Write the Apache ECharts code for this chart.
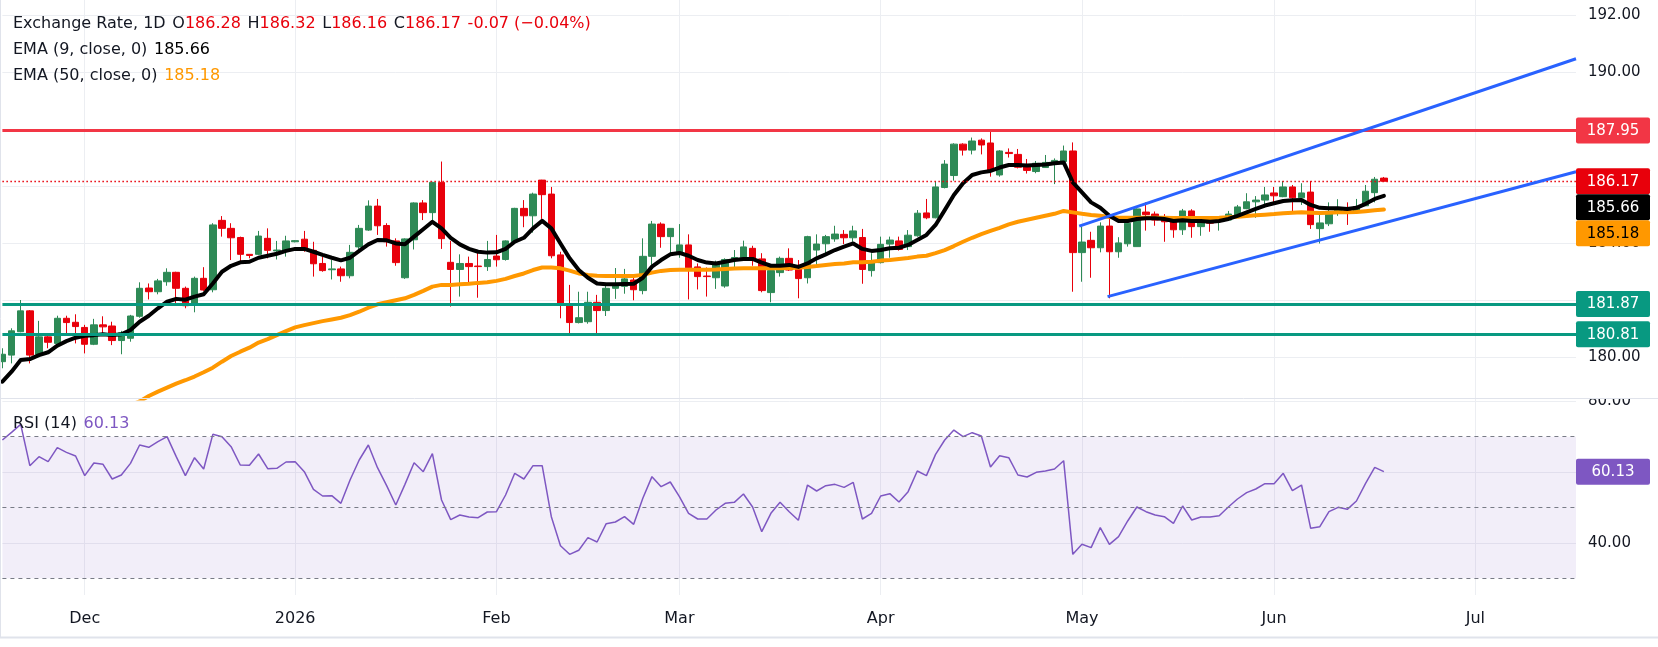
<!DOCTYPE html>
<html>
<head>
<meta charset="utf-8">
<script src="https://cdn.jsdelivr.net/npm/echarts@6/dist/echarts.min.js"></script>
<style>
  html, body { margin: 0; padding: 0; background: #fff; }
  #chart { width: 1658px; height: 647px; }
</style>
</head>
<body>
<div id="chart"></div>
<script>
// daily bars, weekdays only, first (partly hidden) bar is 18 Nov 2025
const firstDay = '2025-11-18';
const barCount = 173; // incl. empty future bars up to the right edge
const dates = [];
(function () {
  const d = new Date(firstDay + 'T00:00:00Z');
  while (dates.length < barCount) {
    const wd = d.getUTCDay();
    if (wd !== 0 && wd !== 6) dates.push(d.toISOString().slice(0, 10));
    d.setUTCDate(d.getUTCDate() + 1);
  }
})();
const monthLabels = ['2026', 'Feb', 'Mar', 'Apr', 'May', 'Jun', 'Jul', 'Aug', 'Sep', 'Oct', 'Nov', 'Dec'];

const opens = [
  179.85, 180.08, 180.90, 181.63, 180.11, 180.72, 180.49, 181.37, 181.23, 181.05,
  180.46, 181.14, 181.10, 180.59, 180.67, 181.44, 182.43, 182.30, 182.65, 182.98,
  182.42, 181.83, 182.77, 182.37, 184.80, 184.52, 184.20, 183.61, 183.61, 184.17,
  183.73, 183.73, 184.05, 184.14, 183.75, 183.29, 183.07, 183.10, 182.86, 183.87,
  184.46, 185.30, 184.62, 184.08, 182.79, 184.12, 185.41, 185.07, 186.13, 183.33,
  183.08, 183.29, 183.20, 183.18, 183.55, 183.43, 184.05, 185.22, 184.96, 186.21,
  185.72, 183.59, 181.86, 181.22, 181.25, 181.93, 181.64, 182.42, 182.49, 182.71,
  182.34, 183.54, 184.67, 184.23, 183.63, 183.94, 183.17, 182.85, 182.79, 182.50,
  183.42, 183.49, 183.82, 183.45, 182.27, 182.97, 183.47, 183.20, 182.79, 183.76,
  183.98, 184.15, 184.31, 184.19, 184.20, 183.04, 183.32, 183.97, 184.08, 183.88,
  184.26, 185.06, 184.89, 185.95, 186.37, 187.47, 187.26, 187.61, 187.51, 186.39,
  187.18, 187.11, 186.68, 186.51, 186.65, 186.82, 186.86, 187.23, 183.67, 184.10,
  183.84, 184.60, 183.70, 183.98, 183.88, 185.09, 185.02, 184.85, 184.78, 184.47,
  185.13, 184.58, 184.80, 184.78, 184.81, 184.96, 185.21, 185.45, 185.51, 185.76,
  185.63, 185.97, 185.59, 185.79, 184.51, 184.68, 185.07, 185.20, 185.10, 185.31,
  185.77, 186.28
];
const closes = [
  180.11, 180.93, 181.63, 180.08, 180.72, 180.53, 181.37, 181.22, 181.08, 180.46,
  181.14, 181.07, 180.59, 180.86, 181.45, 182.42, 182.30, 182.68, 182.98, 182.42,
  181.81, 182.77, 182.36, 184.64, 184.52, 184.19, 183.61, 183.57, 184.25, 183.75,
  183.76, 184.08, 184.09, 183.77, 183.28, 183.04, 183.10, 182.86, 183.68, 184.52,
  185.30, 184.61, 184.05, 183.32, 184.15, 185.41, 185.07, 186.13, 184.16, 183.08,
  183.29, 183.18, 183.18, 183.43, 183.42, 184.08, 185.22, 184.96, 185.72, 185.70,
  183.56, 181.86, 181.22, 181.39, 181.93, 181.64, 182.42, 182.51, 182.75, 182.37,
  183.54, 184.67, 184.23, 184.52, 183.94, 183.14, 182.83, 182.83, 183.26, 183.43,
  183.50, 183.87, 183.41, 182.34, 183.04, 183.47, 183.06, 182.76, 184.23, 183.97,
  184.23, 184.32, 184.19, 184.43, 183.08, 183.39, 183.96, 184.11, 183.78, 184.28,
  185.05, 184.89, 185.97, 186.77, 187.47, 187.26, 187.58, 187.44, 186.55, 187.23,
  187.14, 186.66, 186.55, 186.80, 186.83, 186.90, 187.23, 183.67, 184.04, 183.84,
  184.60, 183.70, 184.01, 184.70, 185.20, 185.00, 184.81, 184.75, 184.47, 185.13,
  184.58, 184.72, 184.70, 184.81, 185.02, 185.27, 185.45, 185.51, 185.69, 185.66,
  185.97, 185.59, 185.76, 184.65, 184.71, 185.10, 185.20, 185.10, 185.28, 185.82,
  186.24, 186.17
];
const lows = [
  179.62, 179.79, 180.88, 179.79, 180.08, 180.32, 180.43, 180.76, 180.49, 180.14,
  180.43, 180.79, 180.43, 180.11, 180.55, 181.39, 182.03, 182.21, 182.51, 181.86,
  181.72, 181.58, 182.33, 182.28, 184.23, 183.41, 183.32, 183.47, 183.59, 183.47,
  183.43, 183.53, 184.03, 183.70, 182.83, 183.00, 182.73, 182.65, 182.77, 183.80,
  184.43, 184.29, 183.88, 183.21, 182.75, 183.78, 184.81, 184.81, 183.80, 181.78,
  182.13, 182.57, 182.09, 183.03, 183.18, 183.39, 183.99, 184.56, 184.37, 184.85,
  183.47, 181.37, 180.81, 181.19, 181.18, 180.84, 181.45, 182.05, 182.23, 182.00,
  182.21, 183.24, 183.84, 183.65, 183.49, 182.03, 182.38, 182.13, 182.40, 182.44,
  183.08, 183.41, 183.21, 182.28, 181.93, 182.83, 183.03, 182.07, 182.59, 183.24,
  183.63, 184.05, 183.97, 184.05, 182.58, 182.83, 183.29, 183.49, 183.74, 183.76,
  184.23, 184.84, 184.87, 185.92, 186.19, 187.07, 187.11, 187.11, 186.33, 186.33,
  187.00, 186.62, 186.44, 186.45, 186.64, 186.07, 186.82, 182.30, 182.65, 182.79,
  183.68, 182.07, 183.49, 183.88, 183.88, 184.44, 184.61, 184.05, 184.19, 184.29,
  184.19, 184.26, 184.40, 184.44, 184.78, 184.92, 185.19, 184.89, 185.25, 185.39,
  185.61, 185.08, 185.34, 184.50, 183.99, 184.60, 184.96, 184.64, 185.10, 185.31,
  185.43, 186.16
];
const highs = [
  180.32, 181.02, 182.01, 181.66, 181.28, 180.84, 181.46, 181.46, 181.51, 181.14,
  181.35, 181.44, 181.25, 180.93, 181.49, 182.63, 182.59, 182.75, 183.12, 183.00,
  182.48, 182.83, 183.16, 184.70, 184.95, 184.70, 184.23, 183.62, 184.43, 184.52,
  184.08, 184.26, 184.11, 184.43, 184.05, 183.53, 183.41, 183.18, 183.94, 184.64,
  185.50, 185.55, 184.70, 184.17, 184.17, 185.43, 185.51, 186.15, 186.86, 184.08,
  183.61, 183.53, 183.73, 184.08, 184.29, 184.10, 185.24, 185.51, 185.77, 186.22,
  185.97, 183.70, 182.54, 182.30, 182.30, 182.19, 182.54, 183.13, 183.10, 182.83,
  184.17, 184.78, 184.73, 184.53, 184.67, 184.31, 183.29, 183.15, 183.39, 183.47,
  183.76, 184.09, 183.91, 183.65, 183.18, 183.53, 183.82, 183.41, 184.26, 184.31,
  184.29, 184.61, 184.46, 184.61, 184.50, 183.65, 184.23, 184.23, 184.23, 184.46,
  185.16, 185.55, 186.18, 186.91, 187.50, 187.50, 187.70, 187.67, 187.94, 187.26,
  187.32, 187.30, 186.95, 186.88, 187.09, 186.97, 187.42, 187.53, 184.58, 184.40,
  184.73, 184.87, 184.21, 184.75, 185.22, 185.43, 185.11, 185.02, 184.87, 185.20,
  185.19, 184.80, 184.91, 184.89, 185.13, 185.34, 185.75, 185.65, 185.97, 185.97,
  186.18, 186.04, 186.10, 186.18, 184.99, 185.43, 185.54, 185.43, 185.55, 186.04,
  186.32, 186.32
];

const ema9 = [
  179.15, 179.50, 179.91, 179.94, 180.08, 180.18, 180.41, 180.57, 180.69, 180.76,
  180.78, 180.81, 180.78, 180.81, 180.96, 181.25, 181.46, 181.72, 181.95, 182.05,
  182.02, 182.13, 182.21, 182.59, 183.00, 183.21, 183.33, 183.35, 183.49, 183.56,
  183.63, 183.73, 183.80, 183.80, 183.70, 183.59, 183.49, 183.40, 183.49, 183.73,
  183.96, 184.11, 184.10, 183.99, 183.96, 184.23, 184.49, 184.75, 184.52, 184.19,
  183.96, 183.80, 183.70, 183.67, 183.68, 183.80, 184.05, 184.19, 184.52, 184.78,
  184.52, 183.99, 183.47, 183.06, 182.79, 182.59, 182.56, 182.56, 182.57, 182.58,
  182.79, 183.18, 183.41, 183.61, 183.66, 183.56, 183.41, 183.32, 183.29, 183.35,
  183.41, 183.45, 183.45, 183.32, 183.21, 183.21, 183.24, 183.17, 183.29, 183.47,
  183.61, 183.76, 183.88, 183.99, 183.80, 183.73, 183.76, 183.82, 183.84, 183.94,
  184.11, 184.29, 184.64, 185.16, 185.69, 186.10, 186.39, 186.48, 186.53, 186.65,
  186.74, 186.74, 186.72, 186.74, 186.76, 186.80, 186.83, 186.13, 185.78, 185.43,
  185.24, 184.96, 184.78, 184.78, 184.85, 184.87, 184.87, 184.85, 184.78, 184.80,
  184.78, 184.78, 184.75, 184.78, 184.85, 184.96, 185.08, 185.20, 185.32, 185.40,
  185.48, 185.50, 185.51, 185.34, 185.24, 185.22, 185.22, 185.20, 185.24, 185.38,
  185.55, 185.66
];
const ema50 = [
  null, null, null, null, null, null, null, null, null, null,
  null, null, null, 178.20, 178.33, 178.46, 178.65, 178.80, 178.94, 179.08,
  179.20, 179.33, 179.48, 179.64, 179.85, 180.05, 180.20, 180.34, 180.52, 180.64,
  180.78, 180.92, 181.05, 181.13, 181.20, 181.27, 181.33, 181.39, 181.48, 181.60,
  181.74, 181.86, 181.93, 182.00, 182.07, 182.19, 182.33, 182.48, 182.54, 182.54,
  182.56, 182.58, 182.61, 182.63, 182.68, 182.75, 182.85, 182.94, 183.06, 183.15,
  183.15, 183.12, 183.04, 182.94, 182.89, 182.86, 182.85, 182.85, 182.85, 182.85,
  182.89, 182.97, 183.03, 183.06, 183.07, 183.07, 183.07, 183.07, 183.08, 183.10,
  183.11, 183.12, 183.12, 183.12, 183.12, 183.12, 183.13, 183.14, 183.17, 183.20,
  183.24, 183.27, 183.29, 183.33, 183.33, 183.35, 183.39, 183.41, 183.45, 183.48,
  183.53, 183.56, 183.65, 183.76, 183.90, 184.05, 184.19, 184.32, 184.43, 184.54,
  184.66, 184.75, 184.82, 184.89, 184.96, 185.03, 185.13, 185.08, 185.03, 184.99,
  184.96, 184.92, 184.89, 184.89, 184.89, 184.89, 184.89, 184.89, 184.88, 184.88,
  184.88, 184.88, 184.88, 184.89, 184.91, 184.93, 184.95, 184.98, 185.00, 185.02,
  185.05, 185.07, 185.08, 185.07, 185.06, 185.07, 185.08, 185.08, 185.09, 185.12,
  185.15, 185.18
];
const rsi = [
  69.06, 71.22, 73.48, 61.81, 64.35, 62.94, 66.89, 65.58, 64.54, 58.99,
  62.56, 62.19, 58.05, 59.18, 62.47, 67.65, 66.99, 68.59, 70.00, 64.35,
  58.99, 64.07, 60.87, 70.66, 70.00, 67.18, 62.00, 61.91, 65.11, 60.96,
  61.06, 62.85, 62.94, 60.12, 55.13, 53.25, 53.34, 51.18, 57.76, 63.41,
  67.65, 61.25, 56.16, 50.71, 56.54, 62.66, 60.12, 65.20, 52.12, 46.56,
  47.88, 47.32, 47.13, 48.73, 48.82, 53.53, 59.65, 58.05, 61.81, 61.81,
  47.41, 39.22, 36.78, 37.91, 41.48, 40.26, 45.44, 45.91, 47.41, 45.25,
  52.59, 58.71, 55.88, 57.20, 53.06, 48.35, 46.75, 46.75, 49.29, 51.18,
  51.46, 53.81, 50.14, 43.18, 48.35, 51.46, 48.82, 46.38, 56.35, 54.66,
  56.16, 56.54, 55.69, 57.11, 46.75, 48.35, 53.25, 53.91, 51.55, 54.47,
  60.31, 58.99, 65.01, 69.06, 71.88, 70.00, 71.13, 70.19, 61.44, 64.64,
  64.07, 59.18, 58.61, 59.93, 60.31, 60.87, 63.22, 36.78, 39.60, 38.66,
  44.31, 39.60, 41.76, 46.19, 50.14, 48.82, 47.88, 47.41, 45.53, 50.42,
  46.47, 47.32, 47.32, 47.69, 50.14, 52.40, 54.19, 55.22, 56.73, 56.73,
  59.65, 54.75, 56.35, 44.12, 44.59, 48.82, 50.05, 49.48, 51.84, 56.82,
  61.34, 60.13
];

// channel drawn on the chart: [bar index, price]
const channelUpper = [[117.7, 184.60], [172, 190.46]];
const channelLower = [[120.8, 182.13], [172, 186.50]];

const resistance = 187.95;
const supports = [181.87, 180.81];
const priceTicks = [180, 182, 184, 186, 188, 190, 192];
const rsiTicks = [40, 60, 80];
const rsiLevels = [70, 50, 30];

const UP = '#2e8a56', DOWN = '#e8000b', TEAL = '#089981', GRID = '#eceef2';
const FONT = 'DejaVu Sans', TXT = '#131722';

const last = closes.length - 1;
const candles = opens.map((o, i) => [o, closes[i], lows[i], highs[i]]);
const isMonthStart = (i) => i > 0 && dates[i].slice(5, 7) !== dates[i - 1].slice(5, 7);
const monthLabel = (v) => monthLabels[(+v.slice(5, 7)) - 1];

const chg = closes[last] - closes[last - 1];
const pct = (chg / closes[last - 1] * 100).toFixed(2).replace('-', '\u2212');
const f2 = (v) => v.toFixed(2);

const chart = echarts.init(document.getElementById('chart'), null, { renderer: 'canvas' });

const xCat = (gi, labels) => ({
  type: 'category', gridIndex: gi, data: dates, boundaryGap: false,
  axisLine: { show: false }, axisTick: { show: false },
  axisLabel: labels ? {
    interval: (i) => isMonthStart(i), formatter: (v) => monthLabel(v),
    color: TXT, fontSize: 16, fontFamily: FONT, margin: 16
  } : { show: false },
  splitLine: { show: true, interval: (i) => isMonthStart(i), lineStyle: { color: GRID, width: 1 } }
});

const option = {
  animation: false,
  backgroundColor: '#fff',
  textStyle: { fontFamily: FONT },
  grid: [
    { left: 2.4, right: 82, top: 0, height: 398.6 },
    { left: 2.4, right: 82, top: 399, height: 196 }
  ],
  xAxis: [
    xCat(0, false),
    xCat(1, true),
    { type: 'value', gridIndex: 0, min: 0, max: barCount - 1, show: false }
  ],
  yAxis: [
    {
      type: 'value', gridIndex: 0, position: 'right', min: 178.557, max: 192.518,
      axisLine: { show: false }, axisTick: { show: false, customValues: priceTicks },
      axisLabel: { customValues: priceTicks, formatter: f2, color: TXT, fontSize: 15, fontFamily: FONT, margin: 12 },
      splitLine: { show: true, lineStyle: { color: GRID } }
    },
    {
      type: 'value', gridIndex: 1, position: 'right', min: 25.29, max: 80.64,
      axisLine: { show: false }, axisTick: { show: false, customValues: rsiTicks },
      axisLabel: { customValues: rsiTicks, formatter: f2, color: TXT, fontSize: 15, fontFamily: FONT, margin: 12 },
      splitLine: { show: true, lineStyle: { color: GRID } }
    }
  ],
  series: [
    {
      type: 'candlestick', xAxisIndex: 0, yAxisIndex: 0, data: candles, barWidth: 7,
      itemStyle: { color: UP, color0: DOWN, borderColor: UP, borderColor0: DOWN, borderWidth: 1 },
      markLine: {
        silent: true, symbol: ['none', 'none'], label: { show: false }, animation: false,
        data: [
          { yAxis: resistance, lineStyle: { color: '#f23645', width: 3, type: 'solid' } },
          { yAxis: supports[0], lineStyle: { color: TEAL, width: 3, type: 'solid' } },
          { yAxis: supports[1], lineStyle: { color: TEAL, width: 3, type: 'solid' } },
          { yAxis: closes[last], lineStyle: { color: DOWN, width: 1.3, type: [1.5, 2.5] } }
        ]
      }
    },
    {
      type: 'line', xAxisIndex: 0, yAxisIndex: 0, data: ema50, symbol: 'none',
      lineStyle: { color: '#ff9800', width: 4, join: 'round', cap: 'round' }, z: 3
    },
    {
      type: 'line', xAxisIndex: 0, yAxisIndex: 0, data: ema9, symbol: 'none',
      lineStyle: { color: '#000', width: 4, join: 'round', cap: 'round' }, z: 4
    },
    {
      type: 'line', xAxisIndex: 2, yAxisIndex: 0, data: channelUpper, symbol: 'none',
      lineStyle: { color: '#2962ff', width: 3 }, z: 5
    },
    {
      type: 'line', xAxisIndex: 2, yAxisIndex: 0, data: channelLower, symbol: 'none',
      lineStyle: { color: '#2962ff', width: 3 }, z: 5
    },
    {
      type: 'line', xAxisIndex: 1, yAxisIndex: 1, data: rsi, symbol: 'none',
      lineStyle: { color: '#7e57c2', width: 1.5 }, z: 4,
      markArea: {
        silent: true, itemStyle: { color: 'rgba(126,87,194,0.1)' },
        data: [[{ yAxis: rsiLevels[2] }, { yAxis: rsiLevels[0] }]]
      },
      markLine: {
        silent: true, symbol: ['none', 'none'], label: { show: false },
        lineStyle: { color: '#787b86', width: 1, type: [4, 4] },
        data: rsiLevels.map((v) => ({ yAxis: v }))
      }
    }
  ]
};
chart.setOption(option);

// price scale tags, pushed down so they never overlap (as the platform does)
function tagEls(list, axisIndex) {
  const items = list.map((t) => Object.assign({}, t, { y: chart.convertToPixel({ yAxisIndex: axisIndex }, t.value) }))
    .sort((a, b) => a.y - b.y);
  const out = [];
  let prevBottom = -Infinity;
  items.forEach((t) => {
    const top = Math.max(t.y - 13, prevBottom);
    prevBottom = top + 26;
    out.push({
      type: 'rect', z: 100, shape: { x: 1576, y: top, width: 74, height: 26, r: 2 }, style: { fill: t.bg }
    });
    out.push({
      type: 'text', z: 101,
      style: {
        x: 1613, y: top + 13.5, text: f2(t.value), fill: t.fg, fontSize: 15, fontFamily: FONT,
        align: 'center', verticalAlign: 'middle', textAlign: 'center', textVerticalAlign: 'middle'
      }
    });
  });
  return out;
}

const priceTags = [
  { value: resistance, bg: '#f23645', fg: '#fff' },
  { value: closes[last], bg: DOWN, fg: '#fff' },
  { value: ema9[last], bg: '#000', fg: '#fff' },
  { value: ema50[last], bg: '#ff9800', fg: '#000' },
  { value: supports[0], bg: TEAL, fg: '#fff' },
  { value: supports[1], bg: TEAL, fg: '#fff' }
];
const rsiTags = [{ value: rsi[last], bg: '#7e57c2', fg: '#fff' }];

const legendRich = {
  t: { fill: TXT, fontSize: 16, fontFamily: FONT },
  r: { fill: DOWN, fontSize: 16, fontFamily: FONT },
  k: { fill: '#000', fontSize: 16, fontFamily: FONT },
  o: { fill: '#ff9800', fontSize: 16, fontFamily: FONT },
  p: { fill: '#7e57c2', fontSize: 16, fontFamily: FONT }
};
const legendText = (x, y, text) => ({
  type: 'text', z: 90,
  style: { x: x, y: y, text: text, rich: legendRich, verticalAlign: 'middle', textVerticalAlign: 'middle' }
});

chart.setOption({
  graphic: [
    // pane separator and the clipped top of the lower scale
    { type: 'rect', z: 50, shape: { x: 1577, y: 383, width: 81, height: 15.5 }, style: { fill: '#fff' } },
    { type: 'line', z: 51, shape: { x1: 0, y1: 398.5, x2: 1658, y2: 398.5 }, style: { stroke: '#e0e3eb', lineWidth: 1 } },
    { type: 'line', z: 51, shape: { x1: 0.5, y1: 0, x2: 0.5, y2: 637 }, style: { stroke: '#e0e3eb', lineWidth: 1 } },
    { type: 'line', z: 51, shape: { x1: 0, y1: 637.5, x2: 1658, y2: 637.5 }, style: { stroke: '#e0e3eb', lineWidth: 2 } },
    legendText(13, 24,
      '{t|Exchange Rate, 1D}  {t|O}{r|' + f2(opens[last]) + '}  {t|H}{r|' + f2(highs[last]) +
      '}  {t|L}{r|' + f2(lows[last]) + '}  {t|C}{r|' + f2(closes[last]) + '}  {r|' + f2(chg) + ' (' + pct + '%)}'),
    legendText(13, 50, '{t|EMA (9, close, 0)}  {k|' + f2(ema9[last]) + '}'),
    legendText(13, 76, '{t|EMA (50, close, 0)}  {o|' + f2(ema50[last]) + '}'),
    legendText(13, 424, '{t|RSI (14)}  {p|' + f2(rsi[last]) + '}')
  ].concat(tagEls(priceTags, 0), tagEls(rsiTags, 1))
});
</script>
</body>
</html>
